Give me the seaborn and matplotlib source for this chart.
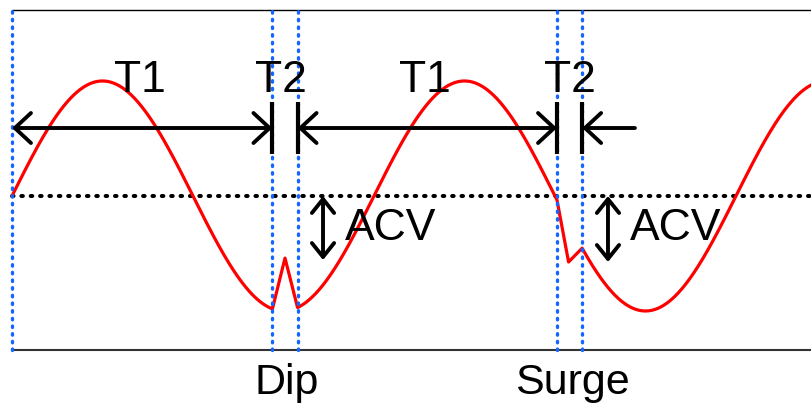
import numpy as np
import pandas as pd
import matplotlib
matplotlib.use("Agg")
import matplotlib.pyplot as plt
import seaborn as sns

# ---- data (phase in degrees, voltage normalised to the nominal amplitude) ----
amplitude = 1.0
phase_end = 795                      # last phase shown (deg)
phase_step = 1                       # sampling of the nominal sine (deg)

# disturbance events: boundaries (deg) and the distorted vertex inside them
dip_bounds = [259, 284]
dip_vertex = [271.5, -0.54]
surge_bounds = [542, 567]
surge_vertex = [553.5, -0.574]

event_lines = [0, 259, 284, 542, 567]          # blue dotted markers
period_bars = [259, 284, 542, 567]             # black T-bars
t1_arrows = [(0, 259), (284, 542)]
t2_tail = (619.5, 567)
acv_arrows = [(309.3, -0.557), (592.7, -0.574)]

labels_T = ["T1", "T2", "T1", "T2"]
labels_T_x = [127.3, 267.5, 410.7, 555.0]
labels_acv_x = [331.0, 614.6]
event_names = ["Dip", "Surge"]
event_names_x = [272.9, 556.9]

# ---- build the waveform ----
deg = np.arange(0, phase_end + phase_step, phase_step, dtype=float)
volt = amplitude * np.sin(np.deg2rad(deg))
keep = ~(((deg > dip_bounds[0]) & (deg < dip_bounds[1])) |
         ((deg > surge_bounds[0]) & (deg < surge_bounds[1])))
xs = list(deg[keep])
ys = list(volt[keep])
for b, v in [(dip_bounds, dip_vertex), (surge_bounds, surge_vertex)]:
    for bx in b:
        xs.append(bx)
        ys.append(amplitude * np.sin(np.deg2rad(bx)))
    xs.append(v[0])
    ys.append(v[1])
df = pd.DataFrame({"phase": xs, "v": ys}).sort_values("phase")

sns.set_theme(style="white")
plt.rcParams["font.family"] = ["Liberation Sans", "DejaVu Sans"]

fig = plt.figure(figsize=(8.11, 4.03), dpi=100)
ax = fig.add_axes([0, 0, 1, 1])

y_top, y_bot = 1.617, -1.339
ax.plot([0, 800], [y_top, y_top], color="black", lw=1.0, zorder=1)
ax.plot([0, 800], [y_bot, y_bot], color="#333333", lw=1.5, zorder=1)

# nominal zero line
ax.plot([0, 800], [0, 0], color="black", lw=2.9,
        linestyle=(0, (0.375, 1.95)), dash_capstyle="round", zorder=2)

# waveform
sns.lineplot(data=df, x="phase", y="v", sort=False, color="#ff0000",
             lw=2.3, ax=ax, zorder=3)
ax.set_xlim(-11.93, 794.6)
ax.set_ylim(-1.80, 1.704)
ax.axis("off")

# blue event markers
for x in event_lines:
    ax.plot([x, x], [y_bot, y_top], color="#1466ff", lw=2.4,
            linestyle=(0, (0.45, 1.85)), dash_capstyle="round", zorder=4)

# black T-bars
for x in period_bars:
    ax.plot([x, x], [0.365, 0.817], color="black", lw=3.0,
            solid_capstyle="butt", zorder=5)

arrow_y = 0.591
akw = dict(arrowstyle="<->,head_length=0.58,head_width=0.54", color="black",
           lw=2.8, shrinkA=0, shrinkB=0, mutation_scale=20)
for a, b in t1_arrows:
    ax.annotate("", xy=(b, arrow_y), xytext=(a, arrow_y), arrowprops=akw, zorder=5)
akw1 = dict(akw, arrowstyle="->,head_length=0.58,head_width=0.54")
ax.annotate("", xy=(t2_tail[1], arrow_y), xytext=(t2_tail[0], arrow_y),
            arrowprops=akw1, zorder=5)
akw2 = dict(akw, arrowstyle="<->,head_length=0.5,head_width=0.4")
for x, y in acv_arrows:
    ax.annotate("", xy=(x, y), xytext=(x, 0), arrowprops=akw2, zorder=5)

fs = 32
for lab, x in zip(labels_T, labels_T_x):
    ax.text(x, 0.904, lab, ha="center", va="baseline", fontsize=fs,
            color="black", zorder=6)
for x in labels_acv_x:
    ax.text(x, -0.383, "ACV", ha="left", va="baseline", fontsize=fs,
            color="black", zorder=6)
for lab, x in zip(event_names, event_names_x):
    ax.text(x, -1.722, lab, ha="center", va="baseline", fontsize=31,
            color="black", zorder=6)

fig.savefig("out.png", dpi=100)
